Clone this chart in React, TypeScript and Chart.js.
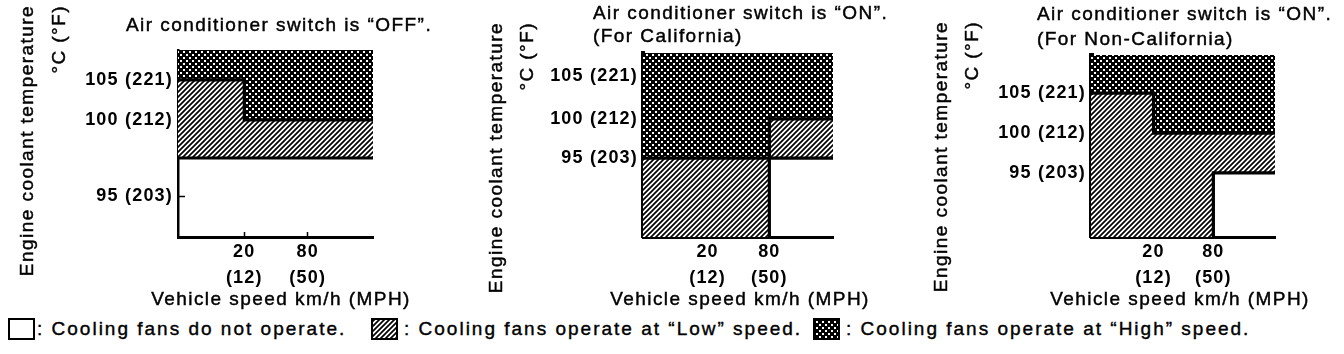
import React, { useEffect, useRef } from 'react';
import { Chart, registerables, LinearScale } from 'chart.js';

// ---------------- data ----------------
const SPEED_KMH = [20, 80];
const SPEED_MPH = [12, 50];
const TEMP_C = [95, 100, 105];
const TEMP_F = [203, 212, 221];

const TITLES = [
  ['Air conditioner switch is “OFF”.'],
  ['Air conditioner switch is “ON”.', '(For California)'],
  ['Air conditioner switch is “ON”.', '(For Non-California)'],
];
const Y_TITLE = ['Engine coolant temperature', '°C (°F)'];
const X_TITLE = 'Vehicle speed km/h (MPH)';
const LEGEND_TEXT = [
  ': Cooling fans do not operate.',
  ': Cooling fans operate at “Low” speed.',
  ': Cooling fans operate at “High” speed.',
];

// A/C OFF  (points are [km/h, °C])
const OFF_HIGH = [[0, 105], [20, 105], [20, 100], [120, 100], [120, 110], [0, 110]];
const OFF_LOW = [[0, 97.5], [120, 97.5], [120, 100], [20, 100], [20, 105], [0, 105]];
const OFF_EDGES = [
  [[0, 105], [20, 105], [20, 100], [120, 100]],
  [[0, 97.5], [120, 97.5]],
];

// A/C ON, California
const CA_HIGH = [[0, 95], [80, 95], [80, 100], [120, 100], [120, 110], [0, 110]];
const CA_LOW_A = [[0, 80], [80, 80], [80, 95], [0, 95]];
const CA_LOW_B = [[80, 95], [120, 95], [120, 100], [80, 100]];
const CA_EDGES = [
  [[0, 95], [120, 95]],
  [[80, 100], [120, 100]],
  [[80, 80], [80, 100]],
];

// A/C ON, Non-California
const NCA_HIGH = [[0, 105], [20, 105], [20, 100], [120, 100], [120, 110], [0, 110]];
const NCA_LOW = [[0, 80], [80, 80], [80, 95], [120, 95], [120, 100], [20, 100], [20, 105], [0, 105]];
const NCA_EDGES = [
  [[0, 105], [20, 105], [20, 100], [120, 100]],
  [[80, 80], [80, 95], [120, 95]],
];

// ---------------- schematic (non-linear) scale ----------------
function interp(x: number, xs: number[], ys: number[]) {
  const n = xs.length;
  let i = 0;
  if (x <= xs[0]) i = 0;
  else if (x >= xs[n - 1]) i = n - 2;
  else {
    while (i < n - 2 && x > xs[i + 1]) i++;
  }
  const t = (x - xs[i]) / (xs[i + 1] - xs[i]);
  return ys[i] + t * (ys[i + 1] - ys[i]);
}

class PiecewiseScale extends LinearScale {
  static id = 'piecewise';
  static defaults = {};
  _stops(): [number[], number[]] {
    const o: any = this.options;
    return [Array.from(o.stopValues as number[]), Array.from(o.stopFractions as number[])];
  }
  getPixelForValue(value: number) {
    if (value === null || value === undefined || Number.isNaN(value)) return NaN;
    const [v, f] = this._stops();
    return this.getPixelForDecimal(interp(value, v, f));
  }
  getValueForPixel(pixel: number) {
    const [v, f] = this._stops();
    return interp(this.getDecimalForPixel(pixel), f, v);
  }
}

Chart.register(...registerables, PiecewiseScale as any);

// ---------------- patterns ----------------
let HATCH: CanvasPattern | null = null;
let CROSS: CanvasPattern | null = null;
function patterns() {
  if (!HATCH) {
    const p = 5;
    const c = document.createElement('canvas');
    c.width = p; c.height = p;
    const g = c.getContext('2d')!;
    g.fillStyle = '#fff'; g.fillRect(0, 0, p, p);
    g.strokeStyle = '#000'; g.lineWidth = 1.7;
    g.beginPath();
    g.moveTo(-1, p + 1); g.lineTo(p + 1, -1);
    g.moveTo(-1, 1); g.lineTo(1, -1);
    g.moveTo(p - 1, p + 1); g.lineTo(p + 1, p - 1);
    g.stroke();
    HATCH = g.createPattern(c, 'repeat');
  }
  if (!CROSS) {
    const p = 6;
    const c = document.createElement('canvas');
    c.width = p; c.height = p;
    const g = c.getContext('2d')!;
    g.fillStyle = '#000'; g.fillRect(0, 0, p, p);
    g.fillStyle = '#fff';
    g.fillRect(0, 0, 2, 2);
    g.fillRect(3, 3, 2, 2);
    CROSS = g.createPattern(c, 'repeat');
  }
  return { hatch: HATCH!, cross: CROSS! };
}

// ---------------- panels ----------------
const FONT = '"Liberation Sans", Arial, Helvetica, sans-serif';
const SPACING = '1.45px';

const PANELS = [
  {
    left: 0, title: TITLES[0], high: [OFF_HIGH], low: [OFF_LOW], edges: OFF_EDGES,
    padL: 78, padR: 75, padT: 50, yBorder: 2.5,
    yStopValues: [89, 95, 100, 105, 109], yStopFractions: [0, 0.219, 0.626, 0.84, 1],
    titleX: 126, titleY: [26], yTitleX: [28, 60], yTitleTop: 5, xTitleX: 281,
  },
  {
    left: 448, title: TITLES[1], high: [CA_HIGH], low: [CA_LOW_A, CA_LOW_B], edges: CA_EDGES,
    padL: 95, padR: 63, padT: 53, yBorder: 4,
    yStopValues: [86, 95, 100, 105, 108], yStopFractions: [0, 0.429, 0.642, 0.875, 1],
    titleX: 145, titleY: [14, 37], yTitleX: [49, 80], yTitleTop: 22, xTitleX: 292,
  },
  {
    left: 896, title: TITLES[2], high: [NCA_HIGH], low: [NCA_LOW], edges: NCA_EDGES,
    padL: 95, padR: 69, padT: 55, yBorder: 5,
    yStopValues: [87, 95, 100, 105, 109.75], yStopFractions: [0, 0.352, 0.571, 0.791, 1],
    titleX: 141, titleY: [15, 40], yTitleX: [46, 77], yTitleTop: 21, xTitleX: 284,
  },
];

const pts = (a: number[][]) => a.map(([x, y]) => ({ x, y }));

function drawText(ctx: CanvasRenderingContext2D, t: string, x: number, y: number) {
  ctx.fillText(t, x, y);
  ctx.strokeText(t, x, y);
}

function textPlugin(cfg: any) {
  return {
    id: 'panelText',
    beforeDraw(chart: any) {
      chart.ctx.letterSpacing = '1.2px';
    },
    afterDraw(chart: any) {
      const ctx = chart.ctx as CanvasRenderingContext2D;
      ctx.save();
      ctx.fillStyle = '#000';
      ctx.strokeStyle = '#000';
      ctx.lineWidth = 0.45;
      ctx.font = `19px ${FONT}`;
      (ctx as any).letterSpacing = SPACING;
      ctx.textBaseline = 'middle';
      ctx.textAlign = 'left';
      cfg.title.forEach((t: string, i: number) => drawText(ctx, t, cfg.titleX, cfg.titleY[i]));
      ctx.textAlign = 'center';
      drawText(ctx, X_TITLE, cfg.xTitleX, 300);
      Y_TITLE.forEach((t, i) => {
        ctx.save();
        ctx.translate(cfg.yTitleX[i], cfg.yTitleTop);
        ctx.rotate(-Math.PI / 2);
        ctx.textAlign = 'right';
        drawText(ctx, t, 0, 0);
        ctx.restore();
      });
      ctx.restore();
    },
  };
}

function Panel({ cfg }: { cfg: any }) {
  const ref = useRef<HTMLCanvasElement>(null);
  useEffect(() => {
    const { hatch, cross } = patterns();
    const tickFont = { family: FONT, size: 18, weight: 'bold' as const, lineHeight: 1.45 };
    const datasets: any[] = [
      ...cfg.edges.map((e: number[][]) => ({
        data: pts(e), borderColor: '#000', borderWidth: 3.2, pointRadius: 0, fill: false,
        borderCapStyle: 'square', borderJoinStyle: 'miter',
      })),
      ...cfg.high.map((h: number[][]) => ({
        data: pts(h), backgroundColor: cross, borderColor: 'rgba(0,0,0,0)', borderWidth: 0,
        pointRadius: 0, fill: 'shape',
      })),
      ...cfg.low.map((l: number[][]) => ({
        data: pts(l), backgroundColor: hatch, borderColor: 'rgba(0,0,0,0)', borderWidth: 0,
        pointRadius: 0, fill: 'shape',
      })),
    ];
    const chart = new Chart(ref.current!, {
      type: 'line',
      data: { datasets },
      options: {
        animation: false,
        responsive: false,
        events: [],
        layout: { padding: { left: cfg.padL, right: cfg.padR, top: cfg.padT, bottom: 0 } },
        plugins: { legend: { display: false }, tooltip: { enabled: false }, title: { display: false } },
        scales: {
          x: {
            type: 'piecewise' as any,
            min: 0, max: 120,
            stopValues: [0, 20, 80, 120], stopFractions: [0, 0.34, 0.665, 1],
            afterBuildTicks: (s: any) => { s.ticks = SPEED_KMH.map((v) => ({ value: v })); },
            afterFit: (s: any) => { s.height = 73; },
            grid: { display: true, drawOnChartArea: false, drawTicks: true, tickLength: -5, tickWidth: 1.5, tickColor: '#000' },
            border: { display: true, color: '#000', width: 3 },
            ticks: {
              autoSkip: false, maxRotation: 0, padding: 7, color: '#000', font: tickFont,
              callback: (v: any) => {
                const k = SPEED_KMH.indexOf(Number(v));
                return [`${SPEED_KMH[k]}`, `(${SPEED_MPH[k]})`];
              },
            },
          } as any,
          y: {
            type: 'piecewise' as any,
            min: cfg.yStopValues[0], max: cfg.yStopValues[cfg.yStopValues.length - 1],
            stopValues: cfg.yStopValues, stopFractions: cfg.yStopFractions,
            afterBuildTicks: (s: any) => { s.ticks = TEMP_C.map((v) => ({ value: v })); },
            afterFit: (s: any) => { s.width = 100; },
            grid: { display: true, drawOnChartArea: false, drawTicks: true, tickLength: -7, tickWidth: 1.5, tickColor: '#000' },
            border: { display: true, color: '#000', width: cfg.yBorder },
            ticks: {
              autoSkip: false, padding: 12, color: '#000', font: { family: FONT, size: 18, weight: 'bold' as const },
              callback: (v: any) => {
                const k = TEMP_C.indexOf(Number(v));
                return `${TEMP_C[k]} (${TEMP_F[k]})`;
              },
            },
          } as any,
        },
      },
      plugins: [textPlugin(cfg)],
    });
    return () => chart.destroy();
  }, []);
  return (
    <canvas
      ref={ref}
      width={448}
      height={310}
      style={{ position: 'absolute', left: cfg.left, top: 0, width: 448, height: 310 }}
    />
  );
}

function Swatch({ kind, left }: { kind: string; left: number }) {
  const ref = useRef<HTMLCanvasElement>(null);
  useEffect(() => {
    const { hatch, cross } = patterns();
    const g = ref.current!.getContext('2d')!;
    g.fillStyle = '#fff';
    g.fillRect(0, 0, 27, 22);
    if (kind !== 'off') {
      g.fillStyle = kind === 'low' ? hatch : cross;
      g.fillRect(1, 1, 25, 20);
    }
    g.strokeStyle = '#000';
    g.lineWidth = 2;
    g.strokeRect(1, 1, 25, 20);
  }, [kind]);
  return (
    <canvas ref={ref} width={27} height={22}
      style={{ position: 'absolute', left, top: 318, width: 27, height: 22 }} />
  );
}

const LEGEND_KINDS = ['off', 'low', 'high'];
const LEGEND_SWATCH_X = [8, 371, 813];
const LEGEND_TEXT_GAP = [29, 33, 33];

export default function App() {
  return (
    <div style={{ position: 'absolute', left: 0, top: 0, width: 1344, height: 354, background: '#fff', overflow: 'hidden' }}>
      {PANELS.map((p, i) => <Panel key={i} cfg={p} />)}
      {LEGEND_KINDS.map((k, i) => (
        <React.Fragment key={k}>
          <Swatch kind={k} left={LEGEND_SWATCH_X[i]} />
          <div style={{
            position: 'absolute', left: LEGEND_SWATCH_X[i] + LEGEND_TEXT_GAP[i], top: 318, height: 22, lineHeight: '22px',
            fontFamily: FONT, fontSize: 19, letterSpacing: '2px', color: '#000', whiteSpace: 'nowrap',
            WebkitTextStroke: '0.4px #000',
          }}>{LEGEND_TEXT[i]}</div>
        </React.Fragment>
      ))}
    </div>
  );
}
